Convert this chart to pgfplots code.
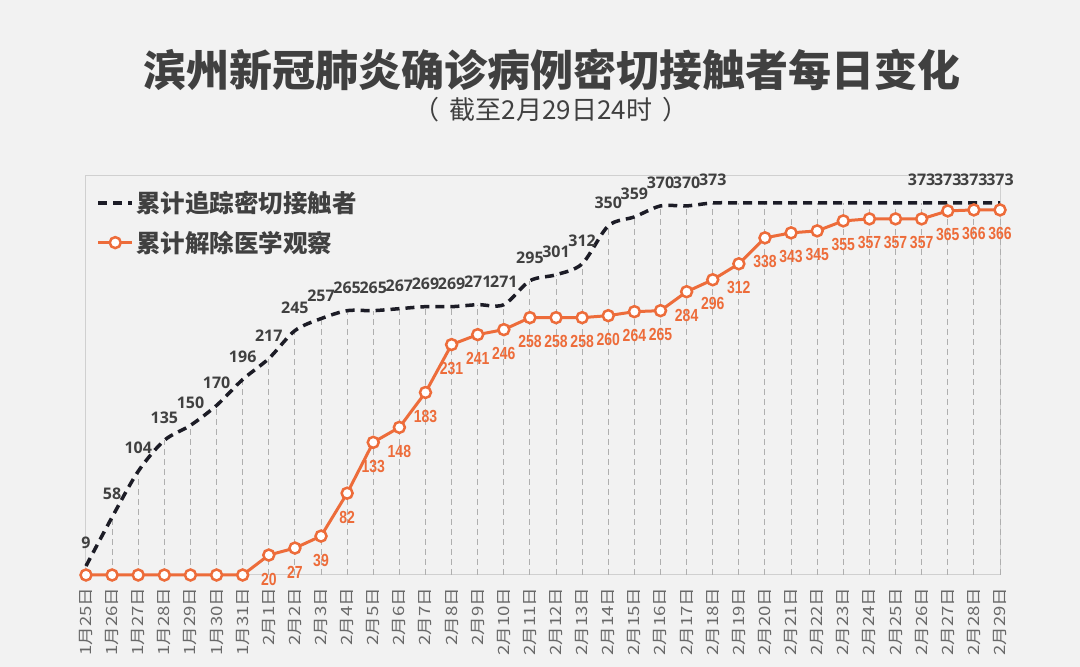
\documentclass[border=0pt]{standalone}
\usepackage{fontspec}
\setmainfont{Noto Sans CJK SC}
\newfontfamily\tickfont{Noto Sans CJK SC}[FakeStretch=1.2]
\newfontfamily\numfont{Open Sans}
\newfontfamily\condfont{Liberation Sans}[FakeStretch=0.8]
\usepackage{pgfplots}
\pgfplotsset{compat=1.18}
\usepackage{pgfplotstable}

\definecolor{bg}{RGB}{242,242,242}
\definecolor{orng}{RGB}{237,108,58}
\definecolor{darkline}{RGB}{28,28,38}
\definecolor{lbl}{RGB}{64,64,64}
\definecolor{tickc}{RGB}{105,105,105}
\definecolor{framec}{RGB}{208,208,208}
\definecolor{dropc}{RGB}{175,175,175}

% x: 0 = 1月25日 ... 35 = 2月29日
\pgfplotstableread{
x contacts released
0 9 0
1 58 0
2 104 0
3 135 0
4 150 0
5 170 0
6 196 0
7 217 20
8 245 27
9 257 39
10 265 82
11 265 133
12 267 148
13 269 183
14 269 231
15 271 241
16 271 246
17 295 258
18 301 258
19 312 258
20 350 260
21 359 264
22 370 265
23 370 284
24 373 296
25 373 312
26 373 338
27 373 343
28 373 345
29 373 355
30 373 357
31 373 357
32 373 357
33 373 365
34 373 366
35 373 366
}\data

\begin{document}
\begin{tikzpicture}
\fill[bg] (0,0) rectangle (1080pt,667pt);
\node[font=\bfseries\fontsize{43}{43}\selectfont, text=lbl] at (552pt,597pt)
  {滨州新冠肺炎确诊病例密切接触者每日变化};
\node[font=\fontsize{26}{26}\selectfont, text=lbl] at (551pt,557pt)
  {（\hspace{10pt}截至2月29日24时\hspace{10pt}）};
\begin{axis}[
    at={(86pt,92pt)}, anchor=south west,
    scale only axis, width=914pt, height=399pt,
    xmin=0, xmax=35, ymin=0, ymax=400,
    axis line style={draw=framec, line width=1pt},
    ytick=\empty,
    xtick={0,...,35},
    xticklabels={1月25日,1月26日,1月27日,1月28日,1月29日,1月30日,1月31日,
      2月1日,2月2日,2月3日,2月4日,2月5日,2月6日,2月7日,2月8日,2月9日,2月10日,
      2月11日,2月12日,2月13日,2月14日,2月15日,2月16日,2月17日,2月18日,2月19日,
      2月20日,2月21日,2月22日,2月23日,2月24日,2月25日,2月26日,2月27日,2月28日,2月29日},
    major tick length=0pt,
    xticklabel style={yshift=-9pt, rotate=90, anchor=east,
      font=\tickfont\fontsize{15.5}{15.5}\selectfont, text=tickc},
    clip=false,
    /pgf/number format/assume math mode=true,
    legend style={at={(rel axis cs:0.008,0.972)}, anchor=north west, draw=none, fill=none,
      font=\bfseries\fontsize{24.5}{24.5}\selectfont, text=lbl, row sep=13pt},
    legend cell align=left,
    legend image code/.code={\draw[mark repeat=2,mark phase=2,#1]
      plot coordinates {(0pt,0pt) (17pt,0pt) (34pt,0pt)};},
]
% drop lines
\addplot[ycomb, draw=dropc, line width=1pt, dash pattern=on 6pt off 4pt, forget plot]
  table[x=x, y=contacts]{\data};

\addplot[darkline, line width=3.5pt, dash pattern=on 9pt off 6pt, smooth, tension=0.5, mark=none]
  table[x=x, y=contacts]{\data};
\addlegendentry{累计追踪密切接触者}

\addplot[orng, line width=3pt, mark=*, mark size=5.5pt,
  mark options={fill=white, draw=orng, line width=2.5pt, solid}]
  table[x=x, y=released]{\data};
\addlegendentry{累计解除医学观察}

% value labels
\addplot[mark=none, draw=none, forget plot, restrict x to domain=0:24,
  nodes near coords, nodes near coords style={anchor=center, yshift=23pt,
  font=\numfont\bfseries\fontsize{16}{16}\selectfont, text=lbl}]
  table[x=x, y=contacts]{\data};
\addplot[mark=none, draw=none, forget plot, restrict x to domain=31.5:35,
  nodes near coords, nodes near coords style={anchor=center, yshift=23pt,
  font=\numfont\bfseries\fontsize{16}{16}\selectfont, text=lbl}]
  table[x=x, y=contacts]{\data};
\addplot[mark=none, draw=none, forget plot, restrict x to domain=6.5:35,
  nodes near coords, nodes near coords style={anchor=center, yshift=-24pt,
  font=\condfont\bfseries\fontsize{17.5}{17.5}\selectfont, text=orng}]
  table[x=x, y=released]{\data};
\end{axis}
\end{tikzpicture}
\end{document}
